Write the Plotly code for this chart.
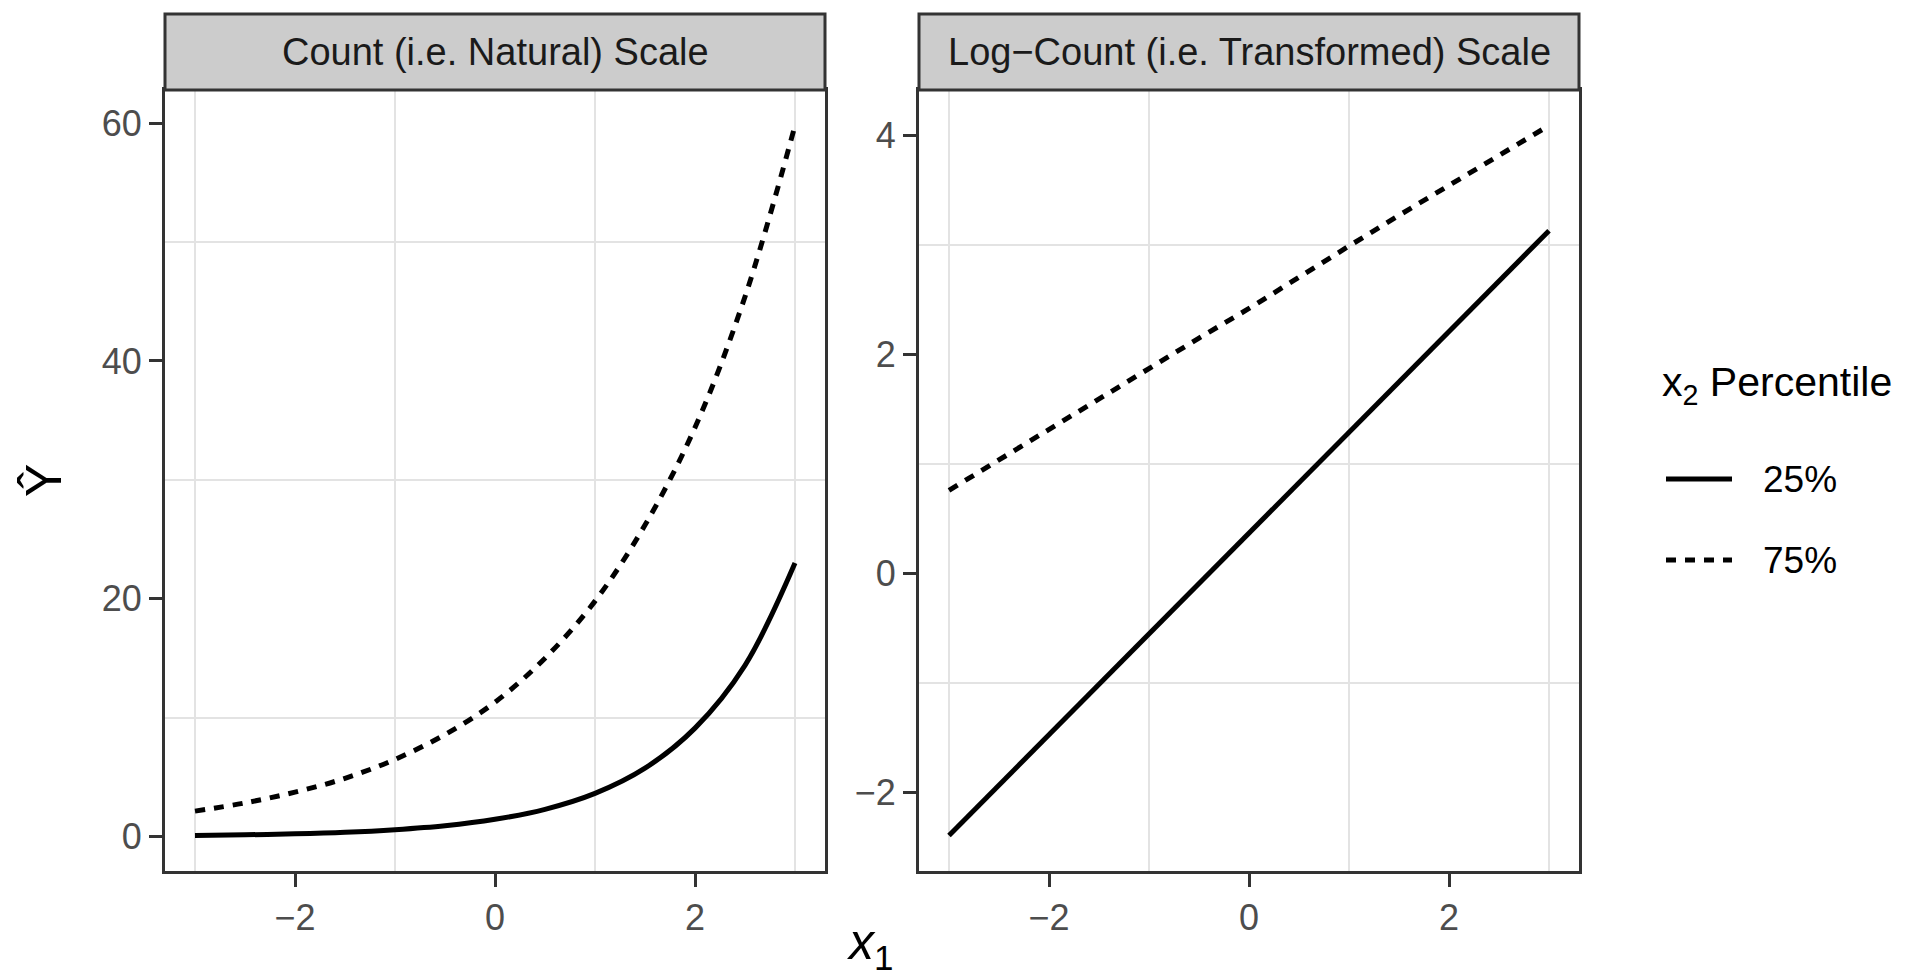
import plotly.graph_objects as go

# ---- data ----
x1_values = [-3, -2.5, -2, -1.5, -1, -0.5, 0, 0.5, 1, 1.5, 2, 2.5, 3]
count_25 = [0.09, 0.15, 0.23, 0.36, 0.58, 0.91, 1.45, 2.29, 3.63, 5.75, 9.12, 14.4, 23.0]
count_75 = [2.14, 2.83, 3.74, 4.90, 6.49, 8.58, 11.3, 15.0, 19.8, 26.2, 34.4, 45.4, 59.8]
log_25 = [-2.39, -1.93, -1.47, -1.01, -0.55, -0.09, 0.37, 0.83, 1.29, 1.75, 2.21, 2.67, 3.13]
log_75 = [0.76, 1.04, 1.32, 1.59, 1.87, 2.15, 2.42, 2.71, 2.99, 3.27, 3.54, 3.82, 4.09]

series_names = ["25%", "75%"]
series_dash = ["solid", "10px,9px"]
panel_titles = ["Count (i.e. Natural) Scale", "Log\u2212Count (i.e. Transformed) Scale"]
x_ticks = [-2, 0, 2]
x_minor = [-3, -1, 1, 3]
left_y_ticks = [0, 20, 40, 60]
left_y_minor = [10, 30, 50]
right_y_ticks = [-2, 0, 2, 4]
right_y_minor = [-1, 1, 3]

W, H = 1920, 978
FONT = "Liberation Sans"
DARK = "#333333"
GRID = "#E3E3E3"
LW = 5


def px_x(v):
    return v / W


def px_y(v):
    return (H - v) / H


def expand(vals):
    lo, hi = min(vals), max(vals)
    d = (hi - lo) * 0.05
    return [lo - d, hi + d]


fig = go.Figure()

panels = [
    (count_25, count_75, "x", "y", "spline"),
    (log_25, log_75, "x2", "y2", "linear"),
]
for s25, s75, xa, ya, shape in panels:
    for vals, name, dash in zip([s25, s75], series_names, series_dash):
        fig.add_trace(go.Scatter(
            x=x1_values, y=vals, mode="lines", name=name, showlegend=False,
            line=dict(color="black", width=LW, dash=dash, shape=shape),
            xaxis=xa, yaxis=ya,
        ))

# panel geometry (pixels)
left_dom = [px_x(157), px_x(817)]
right_dom = [px_x(911), px_x(1571)]
y_dom = [px_y(863), px_y(82)]
strip_top = px_y(6)

tickfont = dict(family=FONT, size=36, color="#4D4D4D")


def xaxis_cfg(dom, anchor):
    return dict(
        domain=dom, anchor=anchor, range=[-3.3, 3.3],
        tickvals=x_ticks, ticktext=[str(v).replace("-", "\u2212") for v in x_ticks],
        showgrid=False, zeroline=False,
        showline=True, mirror=True, linecolor=DARK, linewidth=3,
        ticks="outside", ticklen=13, tickwidth=3, tickcolor=DARK,
        tickfont=tickfont,
        minor=dict(tickvals=x_minor, showgrid=True, gridcolor=GRID, gridwidth=2, ticks=""),
    )


def yaxis_cfg(anchor, rng, ticks, minor):
    return dict(
        domain=y_dom, anchor=anchor, range=rng,
        tickvals=ticks, ticktext=[str(v).replace("-", "\u2212") for v in ticks],
        showgrid=False, zeroline=False,
        showline=True, mirror=True, linecolor=DARK, linewidth=3,
        ticks="outside", ticklen=13, tickwidth=3, tickcolor=DARK,
        tickfont=tickfont,
        minor=dict(tickvals=minor, showgrid=True, gridcolor=GRID, gridwidth=2, ticks=""),
    )


fig.update_layout(
    width=W, height=H, margin=dict(l=0, r=0, t=0, b=0),
    paper_bgcolor="white", plot_bgcolor="white",
    font=dict(family=FONT, color="black"),
    xaxis=xaxis_cfg(left_dom, "y"),
    xaxis2=xaxis_cfg(right_dom, "y2"),
    yaxis=yaxis_cfg("x", expand(count_25 + count_75), left_y_ticks, left_y_minor),
    yaxis2=yaxis_cfg("x2", expand(log_25 + log_75), right_y_ticks, right_y_minor),
)

shapes = []
annotations = []
# strips
for dom, title in zip([left_dom, right_dom], panel_titles):
    shapes.append(dict(type="rect", xref="paper", yref="paper",
                       x0=dom[0], x1=dom[1], y0=y_dom[1], y1=strip_top,
                       fillcolor="#CCCCCC", line=dict(color=DARK, width=3), layer="above"))
    annotations.append(dict(xref="paper", yref="paper", x=(dom[0] + dom[1]) / 2,
                            y=(y_dom[1] + strip_top) / 2, text=title, showarrow=False,
                            xanchor="center", yanchor="middle",
                            font=dict(family=FONT, size=38, color="#1A1A1A")))

# axis titles
annotations.append(dict(xref="paper", yref="paper", x=px_x(36), y=px_y(473),
                        text="\u0176", textangle=-90, showarrow=False,
                        xanchor="center", yanchor="middle",
                        font=dict(family=FONT, size=50, color="black")))
annotations.append(dict(xref="paper", yref="paper", x=px_x(862), y=px_y(937),
                        text="<i>x</i><sub>1</sub>", showarrow=False,
                        xanchor="center", yanchor="middle",
                        font=dict(family=FONT, size=50, color="black")))

# legend (drawn manually so the key lines match the reference length)
annotations.append(dict(xref="paper", yref="paper", x=px_x(1652), y=px_y(377),
                        text="x<sub>2</sub> Percentile", showarrow=False,
                        xanchor="left", yanchor="middle",
                        font=dict(family=FONT, size=41, color="black")))
for i, (name, dash) in enumerate(zip(series_names, series_dash)):
    yy = px_y(471 + i * 81)
    shapes.append(dict(type="line", xref="paper", yref="paper",
                       x0=px_x(1658), x1=px_x(1724), y0=yy, y1=yy,
                       line=dict(color="black", width=LW, dash=dash)))
    annotations.append(dict(xref="paper", yref="paper", x=px_x(1753), y=yy,
                            text=name, showarrow=False, xanchor="left", yanchor="middle",
                            font=dict(family=FONT, size=37, color="black")))

fig.update_layout(shapes=shapes, annotations=annotations)
fig.write_html("out.html")
